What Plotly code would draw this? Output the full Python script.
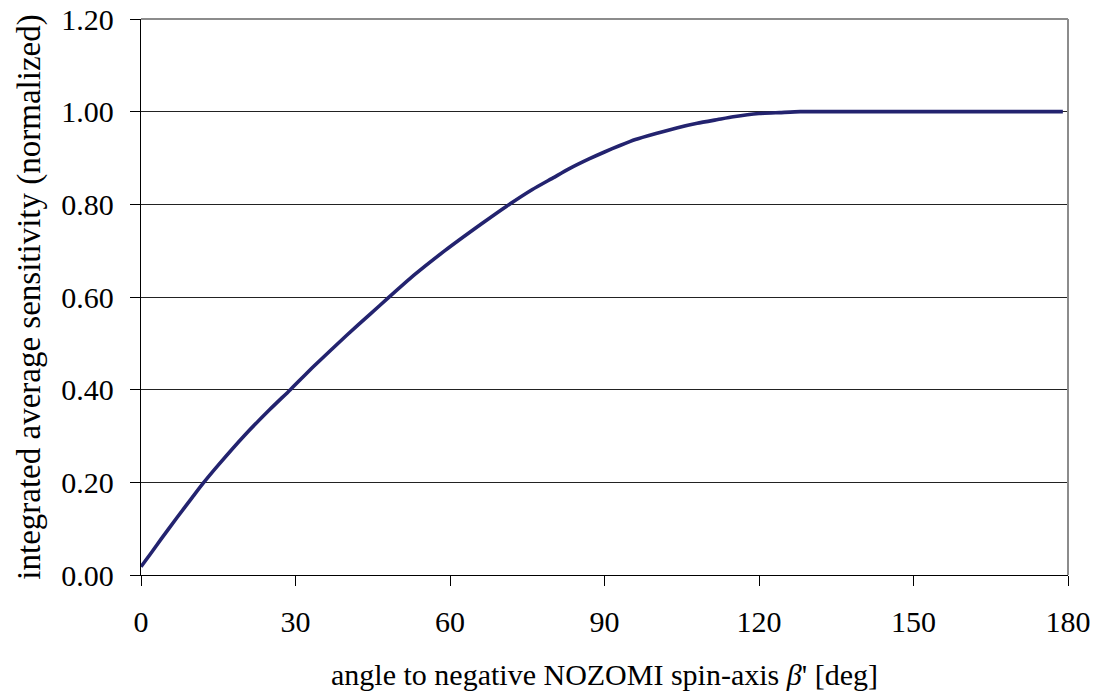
import plotly.graph_objects as go

angle_deg = [0, 2, 4, 7, 10, 12, 15, 20, 25, 29, 33.5, 40, 44.5, 48, 53, 59, 66, 71,
             76, 80, 83, 87, 90, 93, 96, 100, 104, 108, 112, 115, 120, 124, 128,
             140, 150, 160, 170, 179]
sensitivity = [0.018, 0.048, 0.079, 0.124, 0.168, 0.197, 0.237, 0.300, 0.357, 0.400,
               0.450, 0.518, 0.563, 0.598, 0.647, 0.700, 0.757, 0.796, 0.832, 0.857,
               0.876, 0.898, 0.913, 0.927, 0.940, 0.953, 0.965, 0.975, 0.983, 0.989,
               0.996, 0.998, 1.000, 1.000, 1.000, 1.000, 1.000, 1.000]

x_ticks = [0, 30, 60, 90, 120, 150, 180]
y_ticks = [0.0, 0.2, 0.4, 0.6, 0.8, 1.0, 1.2]

FONT = "Liberation Serif, Times New Roman, serif"

fig = go.Figure()
fig.add_trace(go.Scatter(
    x=angle_deg, y=sensitivity, mode="lines",
    line=dict(color="#23236f", width=3.6, shape="spline", smoothing=0.5),
    showlegend=False, hoverinfo="skip"))

fig.update_layout(
    width=1099, height=700,
    margin=dict(l=141, r=31, t=19, b=125, autoexpand=False),
    paper_bgcolor="white", plot_bgcolor="white",
    font=dict(family=FONT, size=30, color="black"),
    xaxis=dict(
        range=[0, 180], tickvals=x_ticks, ticktext=[str(v) for v in x_ticks],
        automargin=False,
        showgrid=False, zeroline=False, showline=True, linecolor="black", linewidth=1.3,
        ticks="outside", ticklen=10, tickcolor="black", tickwidth=1.3,
        ticklabelstandoff=10,
        title=dict(text="angle to negative NOZOMI spin-axis <i>β</i>' [deg]",
                   font=dict(family=FONT, size=30), standoff=26),
    ),
    yaxis=dict(
        range=[0, 1.2], tickvals=y_ticks, ticktext=[f"{v:.2f}" for v in y_ticks],
        automargin=False,
        showgrid=True, gridcolor="#222222", gridwidth=1,
        zeroline=False, showline=True, linecolor="black", linewidth=1.3,
        ticks="outside", ticklen=10, tickcolor="black", tickwidth=1.3,
        ticklabelstandoff=10,
        title=dict(text="integrated average sensitivity (normalized)",
                   font=dict(family=FONT, size=33), standoff=10),
    ),
)

# plot-area border (top and right) in grey
fig.add_shape(type="line", xref="paper", yref="paper", x0=0, x1=1, y0=1, y1=1,
              line=dict(color="#8c8c8c", width=2), layer="above")
fig.add_shape(type="line", xref="paper", yref="paper", x0=1, x1=1, y0=0, y1=1,
              line=dict(color="#8c8c8c", width=2), layer="above")

fig.write_html("out.html")
